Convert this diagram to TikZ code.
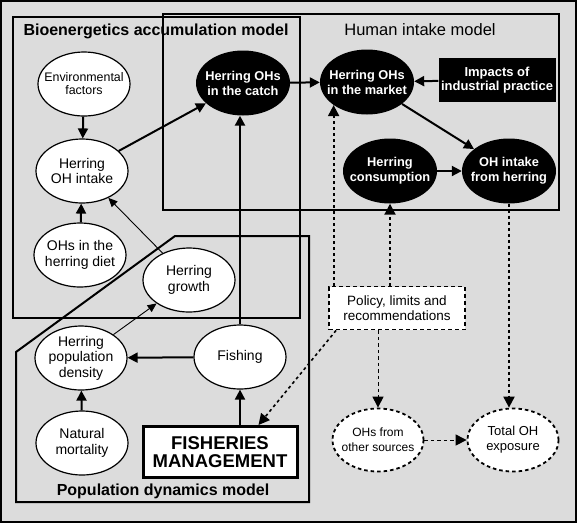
\documentclass[tikz,border=0pt]{standalone}
\usepackage{fontspec}
\setmainfont{Liberation Sans}
\usetikzlibrary{shapes.geometric,arrows.meta}
\definecolor{bggray}{RGB}{220,220,220}

\tikzset{
	whitenode/.style={ellipse,draw,line width=1.2pt,fill=white,minimum width=92pt,minimum height=64pt,inner xsep=-22pt,inner ysep=0pt,align=center,font=\fontsize{14}{15.5}\selectfont},
	blacknode/.style={ellipse,fill=black,text=white,minimum width=94pt,minimum height=65pt,inner xsep=-22pt,inner ysep=0pt,align=center,font=\fontsize{12.8}{15}\selectfont\bfseries},
	dashnode/.style={ellipse,draw,line width=1.8pt,dash pattern=on 3.5pt off 3pt,fill=white,minimum width=91pt,minimum height=63pt,inner xsep=-22pt,inner ysep=0pt,align=center,font=\fontsize{12}{15}\selectfont},
	boxtitle/.style={font=\fontsize{16}{18}\selectfont\bfseries},
	thickarrow/.style={line width=2pt,-{Triangle[length=10pt,width=10pt]}},
	thinarrow/.style={line width=0.9pt,-{Triangle[length=9pt,width=8pt]}},
	dotarrow/.style={line width=2pt,dash pattern=on 3pt off 3pt,-{Triangle[length=11pt,width=11pt]}},
	dasharrow/.style={line width=1pt,dash pattern=on 3.5pt off 3pt,-{Triangle[length=11pt,width=11pt]}}
}

\begin{document}
\begin{tikzpicture}[x=1pt,y=-1pt]
\useasboundingbox (0,0) rectangle (577,523);
\draw[line width=2pt,fill=bggray] (1,1) rectangle (576,522);

%Modellrahmen
\draw[line width=2.6pt] (13,17) rectangle (300,318);
\draw[line width=2.2pt] (163,14) rectangle (559,210);
\draw[line width=2pt] (16,502) -- (16,352) -- (175,236) -- (309,236) -- (309,502) -- cycle;
\node[boxtitle] (biotitle) at (156,31) {Bioenergetics accumulation model};
\node[font=\fontsize{16.5}{18}\selectfont] (humantitle) at (420,30) {Human intake model};
\node[boxtitle] (poptitle) at (163,491) {Population dynamics model};

%Weisse Ellipsen
\node[whitenode,font=\fontsize{12.4}{13}\selectfont] (env) at (84,84) {Environmental\\factors};
\node[whitenode] (intake) at (82,171) {Herring\\OH intake};
\node[whitenode] (diet) at (80,255) {OHs in the\\herring diet};
\node[whitenode] (growth) at (189,280) {Herring\\growth};
\node[whitenode] (density) at (81,358) {Herring\\population\\density};
\node[whitenode] (fishing) at (240,357) {Fishing};
\node[whitenode] (mortality) at (82,443) {Natural\\mortality};

%Schwarze Ellipsen
\node[blacknode] (catch) at (243,83) {Herring OHs\\in the catch};
\node[blacknode] (market) at (367,82) {Herring OHs\\in the market};
\node[blacknode] (consumption) at (390,171) {Herring\\consumption};
\node[blacknode] (ohintake) at (509,171) {OH intake\\from herring};

\node[fill=black,text=white,minimum width=117pt,minimum height=44pt,inner sep=0pt,align=center,font=\fontsize{13}{14}\selectfont\bfseries] (impacts) at (497,80) {Impacts of\\industrial practice};
\node[draw,line width=3pt,fill=white,minimum width=154pt,minimum height=51pt,inner sep=0pt,align=center,font=\fontsize{18.5}{18.5}\selectfont\bfseries] (mgmt) at (220,452) {FISHERIES\\MANAGEMENT};
\node[draw,line width=1.8pt,dash pattern=on 4pt off 3pt,fill=white,minimum width=136pt,minimum height=43pt,inner sep=0pt,align=center,font=\fontsize{13.5}{15}\selectfont] (policy) at (397,308) {Policy, limits and\\recommendations};
\node[dashnode] (others) at (378,440) {OHs from\\other sources};
\node[dashnode,font=\fontsize{13}{15}\selectfont] (total) at (513,440) {Total OH\\exposure};

%Pfeile
\draw[thickarrow] (env) -- (intake);
\draw[thickarrow] (diet) -- (intake);
\draw[thinarrow] (growth) -- (intake);
\draw[thickarrow] (intake) -- (catch);
\draw[thickarrow,line width=2.4pt] (fishing) -- (fishing |- catch.south);
\draw[thinarrow] (density) -- (growth);
\draw[thickarrow] (fishing) -- (density);
\draw[thickarrow] (mortality) -- (density);
\draw[thickarrow] (mgmt.north -| fishing) -- (fishing);
\draw[thickarrow] (catch) -- (market);
\draw[thickarrow] (impacts) -- (market);
\draw[thickarrow] (market) -- (ohintake);
\draw[thickarrow] (consumption) -- (ohintake);

%Gepunktete Pfeile
\draw[dotarrow] (policy.north -| market.south west) -- (market.south west);
\draw[dotarrow] (policy.north -| consumption.south) -- (consumption.south);
\draw[dotarrow] (ohintake.south) -- (ohintake.south |- total.north);
\draw[dotarrow,line width=1.6pt] ([xshift=8pt]policy.south west) -- ([xshift=-40pt]mgmt.north east);
\draw[dasharrow] (policy.south -| others.north) -- (others.north);
\draw[dasharrow] (others) -- (total);

\end{tikzpicture}
\end{document}
